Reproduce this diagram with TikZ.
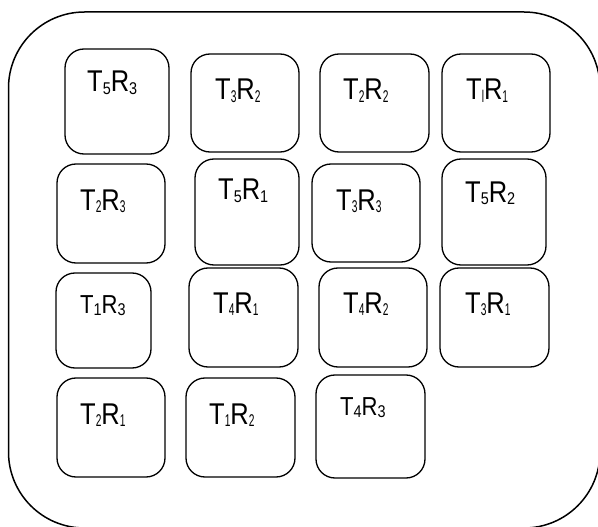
\documentclass[tikz,border=0pt]{standalone}
\usepackage{fontspec}
\setmainfont[FakeStretch=0.85]{Liberation Sans}
\newfontfamily\narrowsub[FakeStretch=0.6]{Liberation Sans}
\newcommand\sbx[1]{\raisebox{-2.5pt}{\fontsize{17}{17}\selectfont #1}}
\newcommand\sbt[1]{\raisebox{-2.5pt}{\narrowsub\fontsize{17}{17}\selectfont #1}}
\begin{document}
\begin{tikzpicture}[x=1pt,y=-1pt,
  cell/.style={draw,line width=1.3pt,rounded corners=19pt,inner sep=0pt,minimum width=108pt,minimum height=98pt},
  lbl/.style={anchor=base west,inner sep=0pt,font=\fontsize{30}{30}\selectfont},
  lbls/.style={anchor=base west,inner sep=0pt,font=\fontsize{26}{26}\selectfont}]
\useasboundingbox (0,0) rectangle (598,527);
\draw[line width=1.5pt,rounded corners=76pt] (8.5,12) rectangle (600,528);
% row 1
\node[cell,minimum width=104pt,minimum height=105pt] (b53) at (117,101.5) {};
\node[cell] (b32) at (245,103) {};
\node[cell,minimum width=109pt] (b22) at (374.5,103) {};
\node[cell] (b11) at (496,103) {};
% row 2
\node[cell,minimum height=99pt] (b23) at (111,213.5) {};
\node[cell,minimum width=104pt,minimum height=106pt] (b51) at (247,212) {};
\node[cell] (b33) at (366,213) {};
\node[cell,minimum width=104pt,minimum height=106pt] (b52) at (494,212) {};
% row 3
\node[cell,minimum width=95pt,minimum height=95pt] (b13) at (103.5,320.5) {};
\node[cell,minimum width=109pt,minimum height=99pt] (b41) at (243.5,317.5) {};
\node[cell,minimum height=99pt] (b42) at (373,317.5) {};
\node[cell,minimum width=109pt,minimum height=99pt] (b31) at (494.5,317.5) {};
% row 4
\node[cell,minimum height=99pt] (b21) at (111,427.5) {};
\node[cell,minimum width=109pt,minimum height=99pt] (b12) at (240.5,427.5) {};
\node[cell,minimum width=109pt,minimum height=103pt] (b43) at (370.5,426.5) {};
% labels
\node[lbl] (t53) at (87,92) {T\sbx{5}R\sbx{3}};
\node[lbl] (t32) at (215,100) {T\sbt{3}R\sbt{2}};
\node[lbl] (t22) at (343,100) {T\sbt{2}R\sbt{2}};
\node[lbl] (t11) at (466,100) {T\sbt{l}R\sbt{1}};
\node[lbl] (t23) at (80,210) {T\sbt{2}R\sbt{3}};
\node[lbl] (t51) at (218,200) {T\sbx{5}R\sbx{1}};
\node[lbl] (t33) at (336,210) {T\sbt{3}R\sbt{3}};
\node[lbl] (t52) at (465,202) {T\sbx{5}R\sbx{2}};
\node[lbls] (t13) at (80,313) {T\sbx{1}R\sbx{3}};
\node[lbl] (t41) at (213,313) {T\sbt{4}R\sbt{1}};
\node[lbl] (t42) at (343,313) {T\sbt{4}R\sbt{2}};
\node[lbl] (t31) at (465,313) {T\sbt{3}R\sbt{1}};
\node[lbl] (t21) at (80,424) {T\sbt{2}R\sbt{1}};
\node[lbl] (t12) at (209,424) {T\sbt{1}R\sbt{2}};
\node[lbls] (t43) at (340,415) {T\sbx{4}R\sbx{3}};
\end{tikzpicture}
\end{document}
